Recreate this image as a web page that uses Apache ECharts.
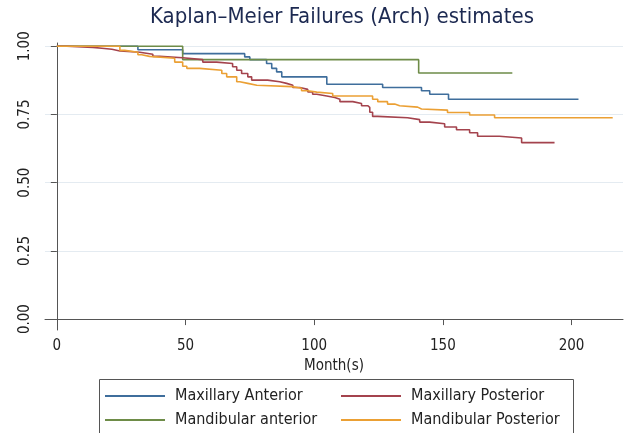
<!DOCTYPE html>
<html>
<head>
<meta charset="utf-8">
<script src="https://cdn.jsdelivr.net/npm/echarts@6/dist/echarts.min.js"></script>
<style>
  html, body { margin: 0; padding: 0; background: #fff; }
  #km { width: 627px; height: 433px; }
</style>
</head>
<body>
<div id="km"></div>
<script>
// months at which each curve steps, and the estimate from that month on
var maxAntT = [0, 31.5, 48.9, 73, 75, 81.5, 83.5, 85.4, 87.4, 104.9, 126.6, 141.7, 144.9, 152.2, 202.7];
var maxAntS = [1, 0.987, 0.973, 0.961, 0.951, 0.937, 0.919, 0.906, 0.888, 0.861, 0.849, 0.837, 0.824, 0.806, 0.806];

var mandAntT = [0, 48.9, 140.6, 177];
var mandAntS = [1, 0.951, 0.902, 0.902];

var maxPostT = [0, 3.9, 14, 17.5, 21.4, 24.5, 32.2, 37.3, 40, 48.9, 56.7, 62.1, 68.3, 69.9, 71.8, 74.2, 75.7, 81.9, 86.6, 89.3,
  91.7, 94.4, 97.5, 99.4, 101, 104.9, 108, 110, 115, 118.4, 120.8, 121.6, 122.7, 124.7, 136.3, 141, 144.9, 150.7, 155.3, 160.4,
  163.5, 172, 180.6, 193.4];
var maxPostS = [1, 0.996, 0.993, 0.989, 0.983, 0.978, 0.971, 0.963, 0.958, 0.951, 0.942, 0.937, 0.925, 0.912, 0.900, 0.888, 0.876, 0.870, 0.864, 0.857,
  0.849, 0.842, 0.833, 0.824, 0.818, 0.812, 0.806, 0.797, 0.790, 0.782, 0.776, 0.758, 0.743, 0.738, 0.731, 0.722, 0.716, 0.704, 0.694, 0.683,
  0.670, 0.664, 0.647, 0.647];

var mandPostT = [0, 24.5, 26.4, 31.5, 33, 36, 45.8, 48.9, 50.5, 55.5, 64.1, 66, 69.9, 71.1, 74.2, 77.7, 91.3, 95.1, 97.5, 101,
  107.2, 122.7, 124.7, 128.5, 131.3, 133.2, 140.2, 141.7, 151.8, 160.4, 170.1, 216];
var mandPostS = [1, 0.985, 0.978, 0.969, 0.963, 0.956, 0.942, 0.927, 0.919, 0.912, 0.900, 0.888, 0.870, 0.864, 0.857, 0.852, 0.846, 0.837, 0.832, 0.827,
  0.818, 0.806, 0.797, 0.788, 0.782, 0.777, 0.770, 0.766, 0.757, 0.748, 0.738, 0.738];

var xTicks = [0, 50, 100, 150, 200];
var yTicks = [0, 0.25, 0.5, 0.75, 1];

var font = '"DejaVu Sans Condensed", "Liberation Sans Narrow", "DejaVu Sans", sans-serif';

function pairs(t, s) {
  return t.map(function (v, i) { return [v, s[i]]; });
}

function curve(name, t, s, color) {
  return {
    name: name,
    type: 'line',
    step: 'end',
    symbol: 'none',
    data: pairs(t, s),
    lineStyle: { color: color, width: 1.6 },
    itemStyle: { color: color }
  };
}

function legendCol(names, left) {
  return {
    data: names,
    orient: 'vertical',
    left: left,
    top: 388,
    height: 80,
    padding: 0,
    icon: 'rect',
    itemWidth: 60,
    itemHeight: 2,
    itemGap: 8,
    textStyle: { fontFamily: font, fontSize: 16, color: '#222', padding: [0, 0, 0, 5] }
  };
}

var chart = echarts.init(document.getElementById('km'));
chart.setOption({
  animation: false,
  title: {
    text: 'Kaplan\u2013Meier Failures (Arch) estimates',
    left: 337,
    textAlign: 'center',
    top: 1,
    textStyle: { fontFamily: font, fontSize: 22, fontWeight: 'normal', color: '#1c2951' }
  },
  grid: { left: 45, right: 4, top: 43, bottom: 103 },
  xAxis: {
    type: 'value',
    min: -4.6,
    max: 220,
    name: 'Month(s)',
    nameLocation: 'middle',
    nameGap: 17,
    nameTextStyle: { fontFamily: font, fontSize: 15, color: '#222' },
    axisLine: { lineStyle: { color: '#555', width: 1 } },
    axisTick: { length: 6, customValues: xTicks, lineStyle: { color: '#555' } },
    axisLabel: { customValues: xTicks, margin: 9, fontFamily: font, fontSize: 15, color: '#222' },
    splitLine: { show: false }
  },
  yAxis: {
    type: 'value',
    min: -0.04,
    max: 1.012,
    axisLine: { show: true, lineStyle: { color: '#555', width: 1 } },
    axisTick: { show: true, length: 6, customValues: yTicks, lineStyle: { color: '#555' } },
    axisLabel: {
      customValues: yTicks,
      rotate: 90,
      margin: 12,
      fontFamily: font,
      fontSize: 15,
      color: '#222',
      formatter: function (v) { return v.toFixed(2); }
    },
    splitLine: { show: true, lineStyle: { color: '#e4ebf1', width: 1 } }
  },
  legend: [
    legendCol(['Maxillary Anterior', 'Mandibular anterior'], 105),
    legendCol(['Maxillary Posterior', 'Mandibular Posterior'], 341)
  ],
  graphic: [{
    type: 'rect',
    left: 97,
    top: 377,
    shape: { width: 474, height: 70 },
    style: { fill: 'none', stroke: '#555', lineWidth: 1 }
  }],
  series: [
    curve('Maxillary Anterior', maxAntT, maxAntS, '#3f6e9c'),
    curve('Mandibular anterior', mandAntT, mandAntS, '#6e8c48'),
    curve('Maxillary Posterior', maxPostT, maxPostS, '#a4434d'),
    curve('Mandibular Posterior', mandPostT, mandPostS, '#eba034')
  ]
});
</script>
</body>
</html>
